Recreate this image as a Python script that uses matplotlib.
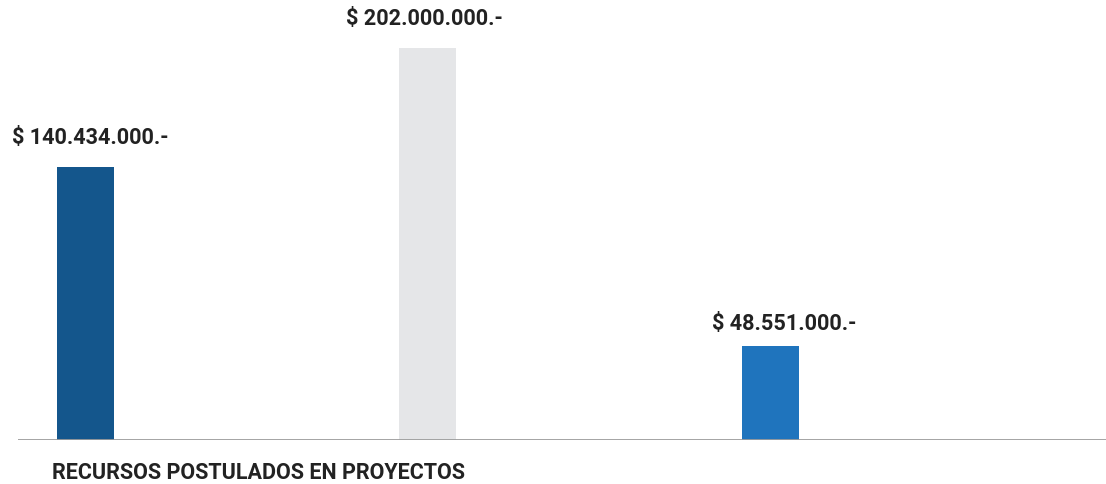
import matplotlib
matplotlib.use('Agg')
import matplotlib.pyplot as plt

categories = ['A', 'B', 'C']
values = [140.434, 202.0, 48.551]          # millones de pesos
labels = ['$ 140.434.000.-', '$ 202.000.000.-', '$ 48.551.000.-']
colors = ['#14568c', '#e5e6e8', '#1f74bd']
title = 'RECURSOS POSTULADOS EN PROYECTOS'

plt.rcParams['font.family'] = ['Roboto', 'DejaVu Sans']

fig = plt.figure(figsize=(11.06, 4.85), dpi=100)
W, H = 1106, 485
# axes: x from 18px to 1106px, baseline at 441px, top at 0px
ax = fig.add_axes([18 / W, (H - 441) / H, (1106 - 18) / W, 441 / H])
ax.axis('off')

xs = list(range(len(categories)))
bw = 57 / 342.5
ax.bar(xs, values, width=bw, color=colors, zorder=2)
ax.set_xlim((18 - 85) / 342.5, (1106 - 85) / 342.5)
ax.set_ylim(0, 202.0 * 441 / 392)
ax.axhline(0, color='#9c9c9c', lw=2.0, zorder=3)

# label nudges (px) to follow the original placement
dx = [5, -3, 14]
dy = [19, 19, 12]
for x, v, lab, ox, oy in zip(xs, values, labels, dx, dy):
    ax.annotate(lab, (x, v), xytext=(ox * 0.72, oy * 0.72), textcoords='offset points',
                ha='center', va='bottom', fontsize=15.6, fontweight='bold', color='#222222')

fig.text(52 / W, 1 - 473 / H, title, ha='left', va='center',
         fontsize=15.5, fontweight='bold', color='#222222')

fig.savefig('out.png', dpi=100, facecolor='white')
